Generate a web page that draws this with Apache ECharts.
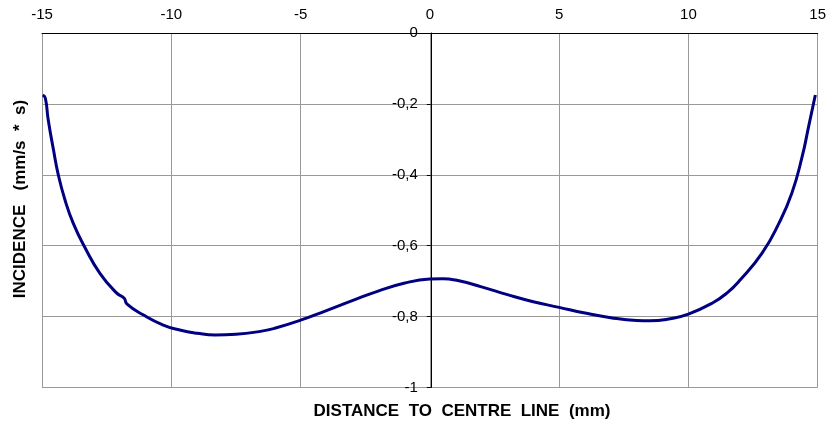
<!DOCTYPE html>
<html>
<head>
<meta charset="utf-8">
<script src="https://cdn.jsdelivr.net/npm/echarts@6/dist/echarts.min.js"></script>
<style>html,body{margin:0;padding:0;background:#fff}#c{width:829px;height:425px}</style>
</head>
<body>
<div id="c"></div>
<script>
const xTicks = [-15, -10, -5, 0, 5, 10, 15];
const yTicks = [0, -0.2, -0.4, -0.6, -0.8, -1];
const distance = [-14.97, -14.87, -14.76, -14.56, -14.37, -14.11, -13.79, -13.34, -12.76, -12.12, -11.82, -11.72, -11.09, -10.31, -9.67, -9.0, -8.3, -7.5, -6.5, -6.0, -5.0, -4.0, -3.0, -2.0, -1.0, 0.0, 0.5, 1.0, 2.0, 3.0, 4.0, 5.0, 6.0, 7.0, 8.0, 8.5, 9.3, 10.0, 10.9, 11.5, 12.0, 12.85, 13.5, 14.0, 14.4, 14.65, 14.91];
const incidence = [-0.175, -0.184, -0.245, -0.328, -0.400, -0.471, -0.537, -0.605, -0.678, -0.733, -0.748, -0.764, -0.795, -0.824, -0.838, -0.847, -0.852, -0.850, -0.841, -0.833, -0.810, -0.783, -0.755, -0.728, -0.706, -0.694, -0.693, -0.697, -0.716, -0.738, -0.758, -0.774, -0.790, -0.803, -0.811, -0.812, -0.806, -0.793, -0.763, -0.733, -0.697, -0.621, -0.537, -0.452, -0.349, -0.264, -0.175];
const xTitle = 'DISTANCE  TO  CENTRE  LINE  (mm)';
const yTitle = 'INCIDENCE   (mm/s  *  s)';

const chart = echarts.init(document.getElementById('c'), null, {renderer: 'canvas'});
const font = 'Liberation Sans, Arial, sans-serif';
const gridLeft = 42, gridRight = 9.5, W = 829;
const zeroOffset = -((W - gridLeft - gridRight) / 2);
chart.setOption({
  animation: false,
  backgroundColor: '#fff',
  grid: {left: gridLeft, right: gridRight, top: 33, bottom: 37.5, containLabel: false},
  xAxis: {
    type: 'value', position: 'top', min: xTicks[0], max: xTicks[xTicks.length - 1], interval: 5,
    axisLine: {onZero: false, lineStyle: {color: '#000', width: 1}},
    axisTick: {show: false},
    axisLabel: {margin: 11, color: '#000', fontSize: 15, fontFamily: font},
    splitLine: {show: true, lineStyle: {color: '#999', width: 1}}
  },
  yAxis: {
    type: 'value', position: 'left', offset: zeroOffset, min: yTicks[yTicks.length - 1], max: yTicks[0], interval: 0.2,
    axisLine: {show: true, onZero: false, lineStyle: {color: '#000', width: 1}},
    axisTick: {show: true, length: 4, lineStyle: {color: '#000'}},
    axisLabel: {margin: 13, color: '#000', fontSize: 15, fontFamily: font,
      formatter: v => String(Math.round(v * 10) / 10).replace('.', ',')},
    splitLine: {show: true, lineStyle: {color: '#999', width: 1}}
  },
  graphic: [
    {type: 'text', x: 462, y: 411, style: {text: xTitle, font: 'bold 17px ' + font, fill: '#000', textAlign: 'center', textVerticalAlign: 'middle'}},
    {type: 'text', rotation: Math.PI / 2, x: 20, y: 199, style: {text: yTitle, font: 'bold 17px ' + font, fill: '#000', textAlign: 'center', textVerticalAlign: 'middle'}}
  ],
  series: [{
    type: 'line', data: distance.map((d, i) => [d, incidence[i]]),
    smooth: 0.5, showSymbol: false, symbol: 'none',
    lineStyle: {color: '#000080', width: 3}
  }]
});
</script>
</body>
</html>
